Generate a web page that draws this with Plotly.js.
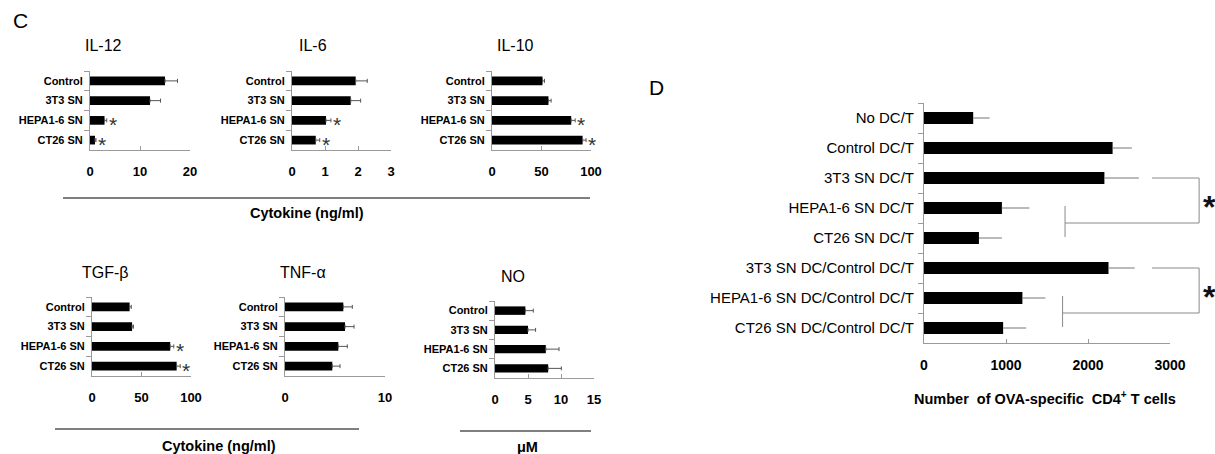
<!DOCTYPE html>
<html><head><meta charset="utf-8">
<script src="https://cdn.plot.ly/plotly-3.0.1.min.js"></script>
<style>html,body{margin:0;padding:0;background:#fff;overflow:hidden}#chart{width:1215px;height:454px}</style>
</head><body><div id="chart"></div>
<script>
// ---------- DATA ----------
const cytoCategories = ['Control', '3T3 SN', 'HEPA1-6 SN', 'CT26 SN'];

const il12Values = [15.0, 12.0, 2.9, 1.0];
const il12Errors = [2.5, 2.1, 0.45, 0.2];
const il12Significant = [false, false, true, true];

const il6Values = [1.93, 1.78, 1.03, 0.72];
const il6Errors = [0.35, 0.30, 0.15, 0.12];
const il6Significant = [false, false, true, true];

const il10Values = [51, 57, 80, 91.5];
const il10Errors = [2, 2.7, 4, 3.5];
const il10Significant = [false, false, true, true];

const tgfbValues = [38, 40.5, 79, 85.5];
const tgfbErrors = [1.7, 1.4, 3.6, 3.6];
const tgfbSignificant = [false, false, true, true];

const tnfaValues = [5.83, 6.0, 5.33, 4.73];
const tnfaErrors = [0.9, 0.9, 0.9, 0.77];
const tnfaSignificant = [false, false, false, false];

const noValues = [4.6, 5.0, 7.7, 8.05];
const noErrors = [1.2, 1.15, 2.0, 2.0];
const noSignificant = [false, false, false, false];

const dCategories = ['No DC/T', 'Control DC/T', '3T3 SN DC/T', 'HEPA1-6 SN DC/T', 'CT26 SN DC/T',
  '3T3 SN DC/Control DC/T', 'HEPA1-6 SN DC/Control DC/T', 'CT26 SN DC/Control DC/T'];
const dValues = [600, 2300, 2200, 950, 670, 2250, 1200, 965];
const dErrors = [200, 235, 420, 335, 280, 320, 280, 280];

// significance brackets in panel D (row indices, data x positions)
const dBrackets = [
  {topRow: 2, lowRows: [3, 4], xStart: 2780, xRight: 3355, xLeft: 1720},
  {topRow: 5, lowRows: [6, 7], xStart: 2780, xRight: 3355, xLeft: 1690}
];

// ---------- LAYOUT ----------
const W = 1215, H = 454;
const FONT = 'Liberation Sans, Arial, Helvetica, sans-serif';
const px = x => x / W;
const py = y => 1 - y / H;
const AXC = '#9a9a9a';

const cPanels = [
  {title: 'IL-12', values: il12Values, errors: il12Errors, sig: il12Significant, range: [0, 20], dtick: 10, box: [90, 190, 71, 150], titleAt: [83, 45]},
  {title: 'IL-6', values: il6Values, errors: il6Errors, sig: il6Significant, range: [0, 3], dtick: 1, box: [292, 391, 71, 150], titleAt: [297, 45]},
  {title: 'IL-10', values: il10Values, errors: il10Errors, sig: il10Significant, range: [0, 100], dtick: 50, box: [492, 591, 71, 150], titleAt: [495, 45]},
  {title: 'TGF-β', values: tgfbValues, errors: tgfbErrors, sig: tgfbSignificant, range: [0, 100], dtick: 50, box: [92, 191, 297, 376], titleAt: [80, 272]},
  {title: 'TNF-α', values: tnfaValues, errors: tnfaErrors, sig: tnfaSignificant, range: [0, 10], dtick: 10, box: [285, 385, 297, 376], titleAt: [278, 272]},
  {title: 'NO', values: noValues, errors: noErrors, sig: noSignificant, range: [0, 15], dtick: 5, box: [495, 594, 301, 378], titleAt: [499, 276]}
];
const dBox = [924, 1170, 103, 343];
const dRange = [0, 3000];

const traces = [];
const layout = {
  width: W, height: H,
  margin: {l: 0, r: 0, t: 0, b: 0},
  paper_bgcolor: '#fff', plot_bgcolor: 'rgba(0,0,0,0)',
  showlegend: false,
  font: {family: FONT, color: '#000'},
  annotations: [], shapes: []
};

function addAxes(n, box, range, dtick, cats, tickSize, catSize, catBold, catStandoff) {
  const xk = 'xaxis' + (n === 1 ? '' : n), yk = 'yaxis' + (n === 1 ? '' : n);
  layout[xk] = {
    domain: [px(box[0]), px(box[1])], anchor: 'y' + (n === 1 ? '' : n),
    range: range, dtick: dtick, tick0: 0, showgrid: false, zeroline: false,
    showline: true, linecolor: AXC, linewidth: 1,
    ticks: 'inside', ticklen: 4, tickcolor: AXC, tickwidth: 1,
    tickfont: {size: tickSize, family: FONT, color: '#000', weight: 'bold'},
    ticklabelstandoff: 9, fixedrange: true
  };
  layout[yk] = {
    domain: [py(box[3]), py(box[2])], anchor: 'x' + (n === 1 ? '' : n),
    type: 'category', categoryorder: 'array', categoryarray: cats,
    range: [cats.length - 0.5, -0.5],
    showgrid: false, zeroline: false, showline: true, linecolor: AXC, linewidth: 1,
    ticks: 'outside', tickson: 'boundaries', ticklen: 5, tickcolor: AXC, tickwidth: 1,
    tickfont: {size: catSize, family: FONT, color: '#000', weight: catBold ? 'bold' : 'normal'},
    ticklabelstandoff: catStandoff, fixedrange: true
  };
}

cPanels.forEach((p, i) => {
  const n = i + 1;
  addAxes(n, p.box, p.range, p.dtick, cytoCategories, 13, 11, true, 4);
  traces.push({
    type: 'bar', orientation: 'h', x: p.values, y: cytoCategories,
    xaxis: 'x' + (n === 1 ? '' : n), yaxis: 'y' + (n === 1 ? '' : n),
    width: 0.44, marker: {color: '#000', line: {width: 0}},
    error_x: {type: 'data', symmetric: false, array: p.errors, arrayminus: p.errors.map(() => 0),
      color: '#555', thickness: 1, width: 2},
    hoverinfo: 'none'
  });
  layout.annotations.push({
    xref: 'paper', yref: 'paper', x: px(p.titleAt[0]), y: py(p.titleAt[1]),
    xanchor: 'left', yanchor: 'middle', text: p.title, showarrow: false,
    font: {size: 16, family: FONT, color: '#000'}
  });
  p.sig.forEach((s, k) => {
    if (!s) return;
    layout.annotations.push({
      xref: 'x' + (n === 1 ? '' : n), yref: 'y' + (n === 1 ? '' : n),
      x: p.values[k] + p.errors[k], y: cytoCategories[k],
      xanchor: 'left', yanchor: 'middle', xshift: 0, yshift: -4,
      text: '*', showarrow: false, font: {size: 21, family: FONT, color: '#333'}
    });
  });
});

// Panel D
addAxes(7, dBox, dRange, 1000, dCategories, 14, 15, false, 6);
traces.push({
  type: 'bar', orientation: 'h', x: dValues, y: dCategories, xaxis: 'x7', yaxis: 'y7',
  width: 0.4, marker: {color: '#000', line: {width: 0}},
  error_x: {type: 'data', symmetric: false, array: dErrors, arrayminus: dErrors.map(() => 0),
    color: '#777', thickness: 1, width: 0},
  hoverinfo: 'none'
});

// helpers mapping panel-D data to page pixels (for the bracket annotations)
const dXpx = v => dBox[0] + (v - dRange[0]) / (dRange[1] - dRange[0]) * (dBox[1] - dBox[0]);
const dYpx = r => dBox[2] + (r + 0.5) * (dBox[3] - dBox[2]) / dCategories.length;
function seg(x0, y0, x1, y1, color, w) {
  layout.shapes.push({type: 'line', xref: 'paper', yref: 'paper', x0: px(x0), y0: py(y0), x1: px(x1), y1: py(y1),
    line: {color: color, width: w}});
}
dBrackets.forEach(b => {
  const yTop = dYpx(b.topRow);
  const yMid = (dYpx(b.lowRows[0]) + dYpx(b.lowRows[1])) / 2;
  const xr = dXpx(b.xRight), xl = dXpx(b.xLeft);
  seg(dXpx(b.xStart), yTop, xr, yTop, '#8a8a8a', 1);
  seg(xr, yTop, xr, yMid, '#8a8a8a', 1);
  seg(xl, yMid, xr, yMid, '#8a8a8a', 1);
  seg(xl, dYpx(b.lowRows[0]) - 2, xl, dYpx(b.lowRows[1]) - 1, '#8a8a8a', 1);
  layout.annotations.push({
    xref: 'paper', yref: 'paper', x: px(xr + 2), y: py((yTop + yMid) / 2), xanchor: 'left', yanchor: 'middle',
    yshift: -6, text: '*', showarrow: false, font: {size: 32, family: FONT, color: '#111', weight: 'bold'}
  });
});

// separator lines under panel C groups
seg(63, 198, 590, 198, '#555', 1.5);
seg(55, 429, 359, 429, '#555', 1.5);
seg(460, 431, 591, 431, '#555', 1.5);

function label(text, x, y, size, bold, anchor) {
  layout.annotations.push({xref: 'paper', yref: 'paper', x: px(x), y: py(y), xanchor: anchor || 'center', yanchor: 'middle',
    text: text, showarrow: false, font: {size: size, family: FONT, color: '#000', weight: bold ? 'bold' : 'normal'}});
}
label('Cytokine (ng/ml)', 307, 213, 14.5, true);
label('Cytokine (ng/ml)', 219, 446, 14.5, true);
label('μM', 527, 447, 14.5, true);
label('Number\u00A0\u00A0of OVA-specific\u00A0\u00A0CD4<sup>+</sup>\u00A0T cells', 1045, 398, 14.5, true);
label('C', 20, 20, 21, false);
label('D', 656, 88, 21, false);

Plotly.newPlot('chart', traces, layout, {staticPlot: true, displayModeBar: false});
</script>
</body></html>
